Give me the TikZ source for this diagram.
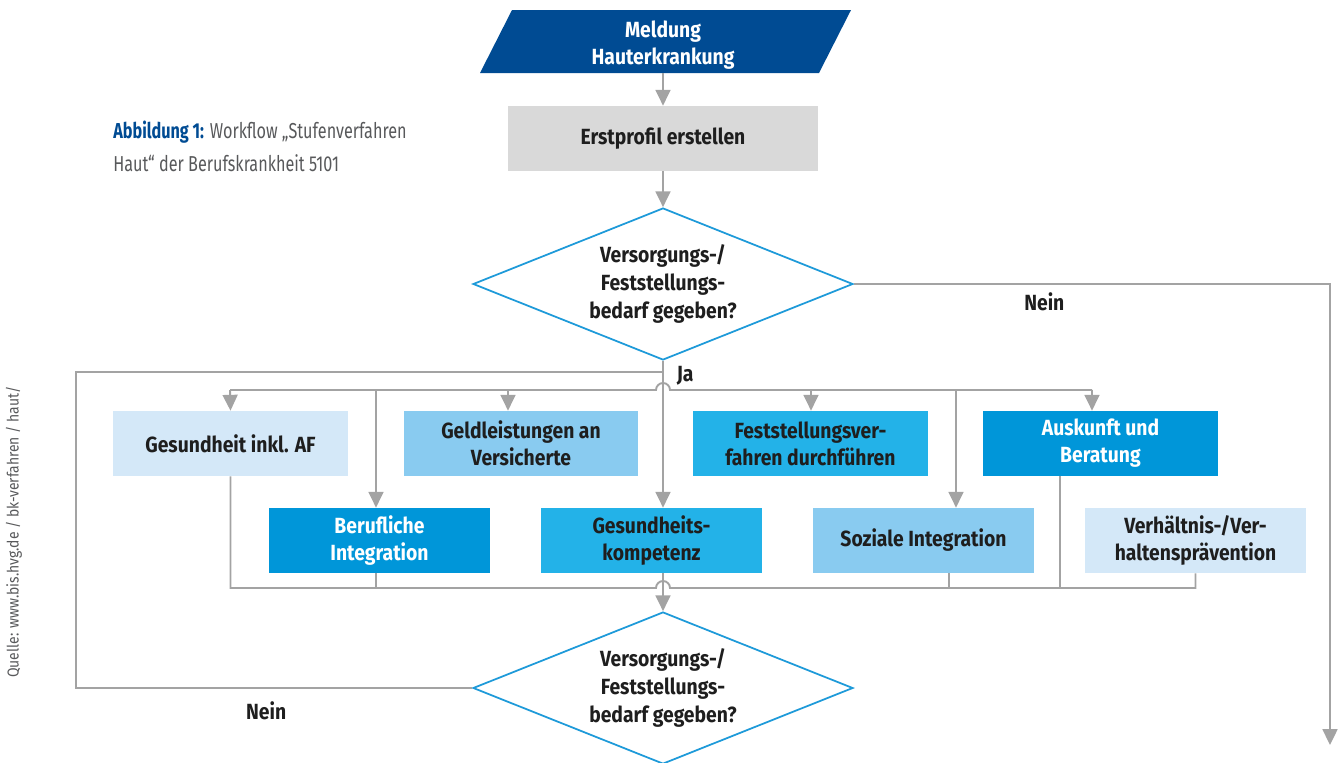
\documentclass[tikz,border=0pt]{standalone}
\usepackage{fontspec}
\setmainfont{Fira Sans}[FakeStretch=0.88]
\newfontfamily\capfont{Fira Sans}[FakeStretch=0.75]
\usepackage{xcolor}
\usetikzlibrary{arrows.meta,positioning,shapes.geometric,calc}

\definecolor{hvgdark}{HTML}{004B93}
\definecolor{stepgray}{HTML}{D9D9D9}
\definecolor{palebl}{HTML}{D4E8F8}
\definecolor{lightbl}{HTML}{89CBF0}
\definecolor{cyanbl}{HTML}{23B2E8}
\definecolor{midbl}{HTML}{0096D9}
\definecolor{decbl}{HTML}{1E9AD9}
\definecolor{linegray}{HTML}{A3A3A3}
\definecolor{textdark}{HTML}{1E1E1E}
\definecolor{capgray}{HTML}{58595B}

\begin{document}
\begin{tikzpicture}[
  x=0.02cm, y=-0.02cm,
  font=\fontsize{12.5}{15.3}\selectfont\bfseries,
  stepbox/.style={minimum width=4.7cm, minimum height=1.3cm, inner sep=0pt, align=center, text=textdark},
  stepboxs/.style={stepbox, minimum width=4.42cm},
  decision/.style={diamond, draw=decbl, line width=1pt, minimum width=7.6cm, minimum height=3.04cm, aspect=2.5, inner sep=0pt, align=center, text=textdark, font=\fontsize{12.5}{16}\selectfont\bfseries},
  flow/.style={-{Triangle[length=9pt,width=8.5pt]}, line width=1.1pt, linegray},
  link/.style={line width=1.1pt, linegray},
  lbl/.style={font=\fontsize{12.5}{15}\selectfont\bfseries, text=textdark}
]
\useasboundingbox (0,0) rectangle (1339,762);

% caption and source
\node[anchor=north west, align=left, inner sep=0pt, font=\capfont\fontsize{12.3}{18.7}\selectfont\mdseries, text=capgray] (caption) at (113,121)
  {\textbf{\color{hvgdark}Abbildung 1:} Workflow „Stufenverfahren\\Haut“ der Berufskrankheit 5101};
\node[rotate=90, inner sep=0pt, font=\fontsize{9}{10}\selectfont\mdseries, text=capgray] (quelle) at (14,532)
  {Quelle: www.bis.hvg.de / bk-verfahren / haut/};

% start and first step
\fill[hvgdark] (512,10) -- (851,10) -- (819,73) -- (480,73) -- cycle;
\node[minimum width=6.78cm, minimum height=1.1cm, inner sep=0pt, align=center, text=white] (meldung) at (663,45.5) {Meldung\\Hauterkrankung};
\node[stepbox, fill=stepgray, minimum width=6.22cm] (erst) at (663,138.5) {Erstprofil erstellen};
\node[decision] (dec1) at (663,284) {Versorgungs-/\\Feststellungs-\\bedarf gegeben?};

% measures, first row
\node[stepbox, fill=palebl] (gaf) at (230.5,443.5) {Gesundheit inkl. AF};
\node[stepbox, fill=lightbl] (geld) at (521,443.5) {Geldleistungen an\\Versicherte};
\node[stepbox, fill=cyanbl] (fest) at (810.5,443.5) {Feststellungsver-\\fahren durchführen};
\node[stepbox, fill=midbl, text=white] (ausk) at (1100.5,443.5) {Auskunft und\\Beratung};

% measures, second row
\node[stepboxs, fill=midbl, text=white] (beruf) at (379.5,540.5) {Berufliche\\Integration};
\node[stepboxs, fill=cyanbl] (gk) at (651.5,540.5) {Gesundheits-\\kompetenz};
\node[stepboxs, fill=lightbl] (sozial) at (923.5,540.5) {Soziale Integration};
\node[stepboxs, fill=palebl] (verh) at (1195.5,540.5) {Verhältnis-/Ver-\\haltensprävention};

\node[decision] (dec2) at (663,688) {Versorgungs-/\\Feststellungs-\\bedarf gegeben?};

\coordinate (bar1L) at (230,390);
\coordinate (hop1a) at (656,390);
\coordinate (bar1R) at (1092,390);
\coordinate (hop2a) at (656,588);
\coordinate (loopL) at (76,372);
\coordinate (neinend) at (1330,745);

\draw[flow] (meldung.south) -- (erst.north);
\draw[flow] (erst.south) -- (dec1.north);
\draw[flow] (dec1.south) -- node[pos=0.1, right=4pt, lbl] {Ja} (dec1.south |- gk.north);
\draw[flow] (dec1.east) -| node[pos=0.2, below=1pt, lbl] {Nein} (neinend);

% distribution bar
\draw[link] (bar1L) -- (hop1a) arc[start angle=180, end angle=0, radius=0.14cm] -- (bar1R);
\draw[flow] (bar1L) -- (gaf.north);
\draw[flow] (376,390) -- (376,390 |- beruf.north);
\draw[flow] (508,390) -- (508,390 |- geld.north);
\draw[flow] (811,390) -- (811,390 |- fest.north);
\draw[flow] (956,390) -- (956,390 |- sozial.north);
\draw[flow] (bar1R) -- (bar1R |- ausk.north);

% collecting bar
\draw[link] (gaf.south) |- (hop2a) arc[start angle=180, end angle=0, radius=0.14cm] -| (verh.south);
\draw[link] (376,0 |- beruf.south) -- (376,588);
\draw[link] (949,0 |- sozial.south) -- (949,588);
\draw[link] (1060,0 |- ausk.south) -- (1060,588);
\draw[flow] (663,0 |- gk.south) -- (dec2.north);

% back loop
\draw[link] (dec2.west) -| node[pos=0.26, below=4pt, lbl] {Nein} (loopL) -- (loopL -| dec1.south);

\end{tikzpicture}
\end{document}
